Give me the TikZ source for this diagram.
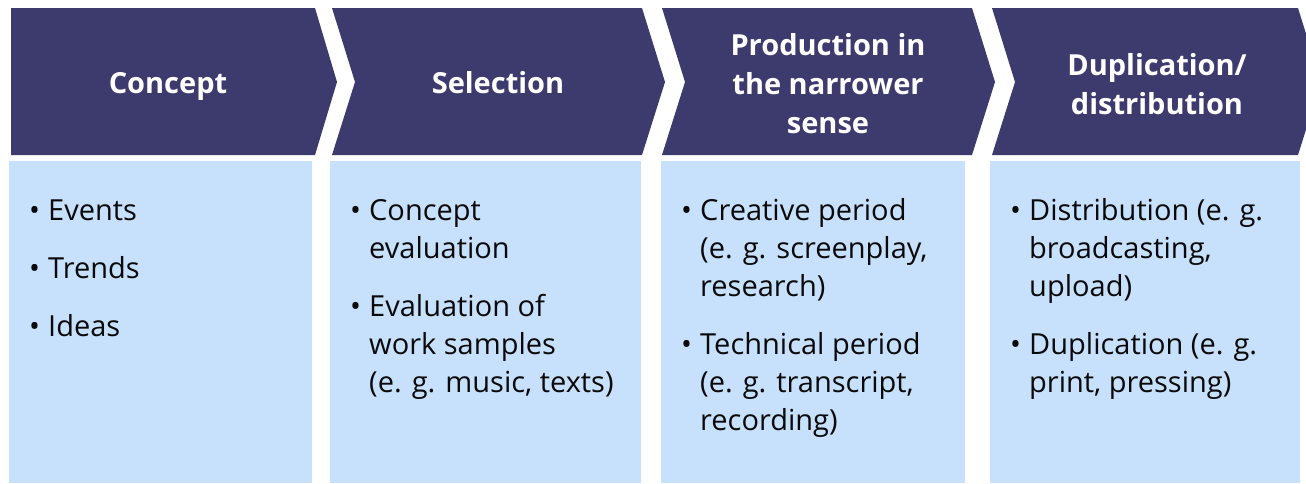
\documentclass[tikz,border=0pt]{standalone}
\usepackage{fontspec}
\setmainfont{Open Sans}
\definecolor{navy}{RGB}{61,59,109}
\definecolor{lightblue}{RGB}{199,224,252}
\definecolor{bodytext}{RGB}{10,10,10}
\newcommand{\bitem}[1]{\par\hangindent=19pt\hangafter=1\noindent\makebox[19pt][l]{•}#1}
\tikzset{
  chev/.style={fill=navy, draw=none},
  infobox/.style={fill=lightblue, draw=none},
  headtext/.style={anchor=base, inner sep=0pt, text=white, font=\fontsize{29}{39}\selectfont\bfseries},
  bodynode/.style={anchor=base west, inner sep=0pt, text=bodytext, font=\fontsize{29}{38}\selectfont}
}
\newcommand{\headbox}[1]{\vtop{\hsize=300pt\centering\baselineskip=39pt #1\par}}
\newcommand{\bodybox}[1]{\vtop{\hsize=290pt\parindent=0pt\parskip=20pt\baselineskip=38pt\leftskip=0pt\rightskip=0pt plus 1fil\let\\\newline #1\par}}
\begin{document}
\begin{tikzpicture}[x=1pt,y=-1pt]
\useasboundingbox (0,0) rectangle (1306,483);
\clip (0,0) rectangle (1306,483);
% chevrons
\fill[chev] (11,8) -- (315,8) -- (337,82) -- (315,155) -- (11,155) -- cycle;
\fill[chev] (332,8) -- (642,8) -- (665,82) -- (642,155) -- (332,155) -- (355,82) -- cycle;
\fill[chev] (662,8) -- (972,8) -- (995,82) -- (972,155) -- (662,155) -- (685,82) -- cycle;
\fill[chev] (992,8) -- (1298,8) -- (1321,82) -- (1298,155) -- (992,155) -- (1015,82) -- cycle;
% boxes
\fill[infobox] (9,161) rectangle (312,483);
\fill[infobox] (330,161) rectangle (641,483);
\fill[infobox] (661,161) rectangle (965,483);
\fill[infobox] (990,161) rectangle (1300,483);
% headings
\node[headtext] (h1) at (168,93) {\headbox{Concept}};
\node[headtext] (h2) at (498,93) {\headbox{Selection}};
\node[headtext] (h3) at (828,55) {\headbox{Production in\\the narrower\\sense}};
\node[headtext] (h4) at (1157,75) {\headbox{Duplication/\\distribution}};
% body
\node[bodynode] (b1) at (29,220) {\bodybox{\bitem{Events}\bitem{Trends}\bitem{Ideas}}};
\node[bodynode] (b2) at (350,220) {\bodybox{\bitem{Concept\\evaluation}\bitem{Evaluation of\\work samples\\(e. g. music, texts)}}};
\node[bodynode] (b3) at (681,220) {\bodybox{\bitem{Creative period\\(e. g. screenplay,\\research)}\bitem{Technical period\\(e. g. transcript,\\recording)}}};
\node[bodynode] (b4) at (1010,220) {\bodybox{\bitem{Distribution (e. g.\\broadcasting,\\upload)}\bitem{Duplication (e. g.\\print, pressing)}}};
\end{tikzpicture}
\end{document}
